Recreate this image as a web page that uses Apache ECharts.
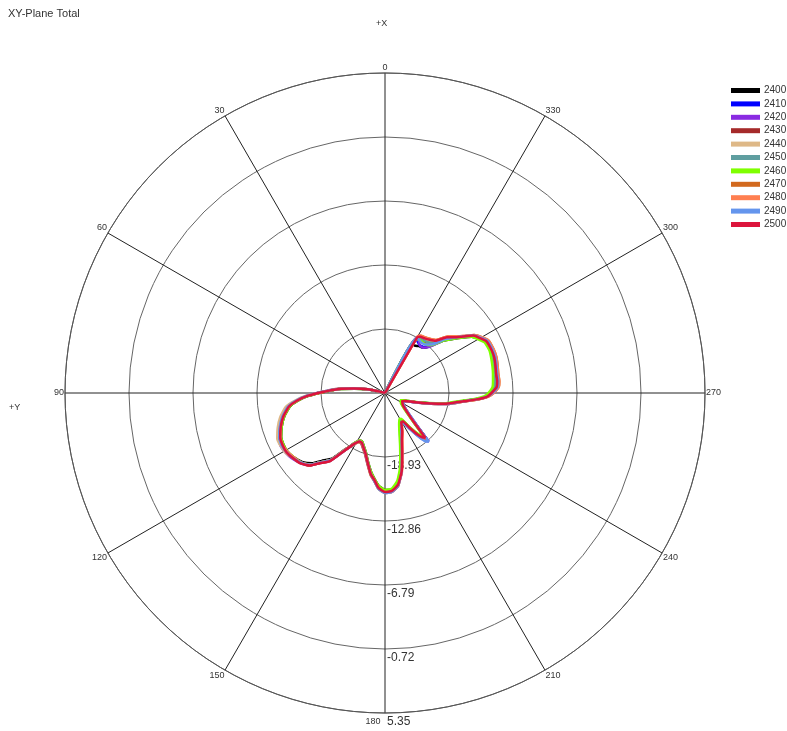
<!DOCTYPE html>
<html>
<head>
<meta charset="utf-8">
<title>XY-Plane Total</title>
<script src="https://cdn.jsdelivr.net/npm/echarts@6/dist/echarts.min.js"></script>
<style>
  html, body { margin: 0; padding: 0; background: #fff; }
  #chart { width: 787px; height: 731px; }
</style>
</head>
<body>
<div id="chart"></div>
<script>
// sample angles (deg), 0 at +X, counter-clockwise
const angleDeg = [
  0, 72, 75, 78, 82, 85, 89, 92, 95, 98,
  103, 108, 113, 117, 121, 125, 130, 134, 137, 141,
  144, 148, 152, 155, 158, 162, 166, 170, 173, 176,
  180, 184, 188, 192, 196, 200, 204, 209, 212, 215,
  218, 220, 222, 223, 225, 228, 232, 237, 241, 245,
  249, 253, 257, 260, 264, 266, 268, 270, 273, 276,
  280, 284, 288, 292, 297, 300, 303, 306, 309, 312,
  316, 320, 324, 328, 330, 332, 360
];

const freqs = ['2400', '2410', '2420', '2430', '2440', '2450', '2460', '2470', '2480', '2490', '2500'];
const colors = ['#000000', '#0000ff', '#8a2be2', '#a52a2a', '#deb887', '#5f9ea0',
  '#7fff00', '#d2691e', '#ff7f50', '#6495ed', '#dc143c'];

// gain in dB (-25 = centre / below scale)
const gain2400 = [
  -25, -25, -24.6, -23.4, -22.1, -20.7, -19.2, -17.8, -16.7, -15.9,
  -15.2, -14.7, -14.3, -14.2, -14.2, -14.4, -14.8, -15.4, -16.2, -17.0,
  -18.2, -19.3, -19.9, -19.9, -19.6, -19.1, -18.3, -17.4, -16.8, -16.2,
  -15.8, -15.8, -16.3, -17.6, -19.3, -20.5, -21.3, -22.0, -21.9, -21.0,
  -19.9, -19.3, -19.0, -19.9, -21.1, -22.0, -22.6, -23.0, -23.1, -23.2,
  -22.9, -22.1, -20.7, -19.2, -17.6, -16.4, -15.4, -15.0, -14.5, -14.4,
  -14.4, -14.3, -14.2, -14.2, -14.3, -14.7, -15.2, -16.1, -16.9, -17.6,
  -18.8, -19.4, -19.5, -19.7, -19.6, -25, -25
];
const gain2410 = [
  -25, -25, -24.6, -23.4, -22.0, -20.6, -19.1, -17.7, -16.6, -15.8,
  -15.0, -14.5, -14.2, -14.1, -14.1, -14.3, -14.7, -15.2, -16.0, -16.8,
  -18.1, -19.3, -19.9, -19.8, -19.5, -19.0, -18.2, -17.3, -16.7, -16.1,
  -15.7, -15.7, -16.2, -17.5, -19.3, -20.6, -21.4, -22.0, -21.8, -20.9,
  -19.8, -19.2, -18.9, -19.8, -21.0, -21.9, -22.5, -22.9, -23.0, -23.1,
  -22.8, -22.0, -20.6, -19.1, -17.6, -16.4, -15.4, -15.0, -14.5, -14.4,
  -14.3, -14.2, -14.1, -14.1, -14.2, -14.6, -15.1, -16.0, -16.8, -17.5,
  -18.7, -19.3, -19.4, -19.2, -19.1, -25, -25
];
const gain2420 = [
  -25, -25, -24.5, -23.3, -21.9, -20.5, -19.0, -17.6, -16.5, -15.6,
  -14.9, -14.4, -14.0, -13.9, -14.0, -14.2, -14.6, -15.1, -15.9, -16.7,
  -18.0, -19.2, -19.8, -19.7, -19.4, -18.9, -18.1, -17.2, -16.6, -16.0,
  -15.6, -15.6, -16.1, -17.4, -19.2, -20.5, -21.3, -21.9, -21.7, -20.8,
  -19.7, -19.1, -18.8, -19.7, -20.9, -21.8, -22.5, -22.9, -23.0, -23.1,
  -22.8, -21.9, -20.5, -19.0, -17.5, -16.3, -15.3, -14.9, -14.4, -14.3,
  -14.2, -14.1, -14.0, -14.0, -14.1, -14.5, -15.0, -15.9, -16.8, -17.6,
  -18.9, -19.4, -19.4, -19.0, -18.9, -25, -25
];
const gain2430 = [
  -25, -25, -24.5, -23.3, -22.0, -20.6, -19.1, -17.7, -16.6, -15.7,
  -15.0, -14.5, -14.1, -14.0, -14.1, -14.3, -14.7, -15.2, -16.0, -16.8,
  -18.1, -19.3, -19.9, -19.8, -19.5, -19.0, -18.2, -17.3, -16.7, -16.1,
  -15.7, -15.7, -16.2, -17.5, -19.3, -20.5, -21.3, -21.9, -21.8, -21.0,
  -19.9, -19.4, -19.1, -20.0, -21.1, -22.0, -22.6, -23.0, -23.1, -23.2,
  -22.9, -22.0, -20.6, -19.1, -17.6, -16.3, -15.3, -14.9, -14.4, -14.3,
  -14.3, -14.2, -14.1, -14.1, -14.2, -14.6, -15.1, -16.0, -16.7, -17.3,
  -18.4, -18.8, -19.0, -19.0, -19.1, -25, -25
];
const gain2440 = [
  -25, -25, -24.5, -23.2, -21.9, -20.5, -19.0, -17.5, -16.4, -15.5,
  -14.8, -14.3, -13.9, -13.9, -14.0, -14.3, -14.7, -15.2, -16.0, -16.8,
  -18.1, -19.3, -19.9, -19.8, -19.5, -19.0, -18.2, -17.2, -16.7, -16.0,
  -15.6, -15.7, -16.2, -17.4, -19.2, -20.5, -21.2, -21.9, -21.9, -21.1,
  -20.1, -19.6, -19.4, -20.2, -21.3, -22.1, -22.7, -23.1, -23.2, -23.3,
  -23.0, -22.1, -20.6, -19.1, -17.5, -16.3, -15.3, -14.8, -14.3, -14.2,
  -14.2, -14.1, -14.0, -14.1, -14.2, -14.6, -15.0, -15.9, -16.6, -17.2,
  -18.2, -18.5, -18.7, -18.8, -19.0, -25, -25
];
const gain2450 = [
  -25, -25, -24.5, -23.3, -22.0, -20.6, -19.1, -17.7, -16.6, -15.8,
  -15.1, -14.6, -14.2, -14.1, -14.1, -14.3, -14.7, -15.2, -16.0, -16.8,
  -18.1, -19.2, -19.8, -19.8, -19.5, -19.0, -18.2, -17.3, -16.7, -16.1,
  -15.7, -15.8, -16.4, -17.8, -19.6, -20.8, -21.5, -22.1, -22.0, -21.2,
  -20.2, -19.7, -19.5, -20.3, -21.3, -22.1, -22.7, -23.1, -23.2, -23.3,
  -23.0, -22.1, -20.7, -19.2, -17.6, -16.4, -15.4, -15.1, -14.6, -14.5,
  -14.5, -14.4, -14.3, -14.2, -14.3, -14.7, -15.1, -16.0, -16.8, -17.4,
  -18.4, -18.7, -18.8, -18.9, -19.0, -25, -25
];
const gain2460 = [
  -25, -25, -24.6, -23.4, -22.1, -20.7, -19.2, -17.8, -16.7, -15.9,
  -15.2, -14.7, -14.3, -14.2, -14.2, -14.4, -14.7, -15.2, -16.0, -16.8,
  -18.1, -19.3, -19.9, -19.9, -19.6, -19.1, -18.3, -17.4, -16.8, -16.2,
  -15.8, -15.9, -16.6, -18.0, -19.8, -21.0, -21.7, -22.2, -22.1, -21.3,
  -20.3, -19.8, -19.6, -20.4, -21.4, -22.2, -22.8, -23.2, -23.3, -23.4,
  -23.1, -22.2, -20.8, -19.3, -17.8, -16.6, -15.6, -15.2, -14.8, -14.7,
  -14.6, -14.5, -14.4, -14.3, -14.4, -14.8, -15.2, -16.1, -16.9, -17.6,
  -18.7, -19.0, -19.0, -19.0, -19.1, -25, -25
];
const gain2470 = [
  -25, -25, -24.5, -23.3, -22.0, -20.6, -19.1, -17.7, -16.6, -15.8,
  -15.1, -14.6, -14.2, -14.1, -14.1, -14.3, -14.6, -15.1, -15.9, -16.7,
  -18.0, -19.1, -19.7, -19.7, -19.4, -18.9, -18.1, -17.1, -16.6, -15.9,
  -15.5, -15.6, -16.1, -17.4, -19.1, -20.3, -21.0, -21.8, -21.8, -21.0,
  -20.0, -19.5, -19.3, -20.1, -21.2, -22.0, -22.6, -23.0, -23.1, -23.2,
  -22.9, -22.0, -20.5, -19.0, -17.4, -16.2, -15.2, -14.7, -14.2, -14.1,
  -14.1, -14.0, -13.9, -13.9, -14.0, -14.4, -14.9, -15.8, -16.5, -17.0,
  -18.0, -18.3, -18.5, -18.6, -18.8, -25, -25
];
const gain2480 = [
  -25, -25, -24.5, -23.3, -22.0, -20.6, -19.1, -17.7, -16.6, -15.8,
  -15.1, -14.6, -14.2, -14.1, -14.2, -14.4, -14.7, -15.2, -16.0, -16.8,
  -18.1, -19.2, -19.8, -19.8, -19.5, -19.0, -18.2, -17.2, -16.7, -16.0,
  -15.6, -15.6, -16.1, -17.3, -19.0, -20.2, -20.9, -21.7, -21.7, -20.9,
  -19.9, -19.4, -19.2, -20.0, -21.1, -21.9, -22.5, -22.9, -23.0, -23.1,
  -22.8, -21.9, -20.5, -19.0, -17.4, -16.2, -15.2, -14.7, -14.2, -14.1,
  -14.1, -14.0, -13.9, -13.9, -14.0, -14.4, -14.9, -15.8, -16.5, -17.0,
  -18.0, -18.3, -18.5, -18.6, -18.8, -25, -25
];
const gain2490 = [
  -25, -25, -24.5, -23.3, -22.0, -20.6, -19.0, -17.6, -16.5, -15.7,
  -15.0, -14.5, -14.1, -14.0, -14.1, -14.3, -14.7, -15.2, -16.0, -16.8,
  -18.0, -19.2, -19.8, -19.8, -19.5, -19.0, -18.2, -17.2, -16.6, -15.9,
  -15.5, -15.6, -16.1, -17.4, -19.2, -20.4, -21.2, -21.8, -21.6, -20.7,
  -19.6, -19.0, -18.8, -19.7, -20.9, -21.8, -22.5, -22.9, -23.0, -23.1,
  -22.8, -21.9, -20.5, -19.0, -17.5, -16.3, -15.3, -14.8, -14.3, -14.2,
  -14.2, -14.1, -14.0, -14.0, -14.1, -14.5, -15.0, -15.9, -16.7, -17.4,
  -18.6, -19.0, -19.1, -19.0, -19.0, -25, -25
];
const gain2500 = [
  -25, -25, -24.5, -23.3, -22.0, -20.6, -19.1, -17.7, -16.6, -15.8,
  -15.1, -14.6, -14.2, -14.1, -14.1, -14.3, -14.6, -15.1, -15.9, -16.7,
  -18.0, -19.2, -19.8, -19.8, -19.5, -19.0, -18.2, -17.2, -16.7, -16.0,
  -15.6, -15.7, -16.2, -17.4, -19.1, -20.3, -21.0, -21.8, -21.8, -21.0,
  -20.0, -19.5, -19.3, -20.1, -21.2, -22.0, -22.6, -23.0, -23.1, -23.2,
  -22.9, -22.0, -20.6, -19.1, -17.5, -16.3, -15.3, -14.9, -14.4, -14.3,
  -14.3, -14.2, -14.1, -14.1, -14.2, -14.6, -15.0, -15.9, -16.6, -17.1,
  -18.1, -18.4, -18.6, -18.7, -18.9, -25, -25
];
const gains = [gain2400, gain2410, gain2420, gain2430, gain2440, gain2450,
  gain2460, gain2470, gain2480, gain2490, gain2500];

// radial scale
const rMin = -25;
const rMax = 5.35;
const rStep = 6.07;

const chart = echarts.init(document.getElementById('chart'));
const font = 'Liberation Sans, Arial, sans-serif';

// angle axis runs 180..540 so the radius axis (at startAngle) points down
const toAxisAngle = a => (a < 180 ? a + 360 : a);

const series = freqs.map((f, k) => ({
  name: f,
  type: 'line',
  coordinateSystem: 'polar',
  showSymbol: false,
  smooth: 0.15,
  animation: false,
  lineStyle: { width: 2.5, color: colors[k] },
  itemStyle: { color: colors[k] },
  data: angleDeg.map((a, i) => [Math.max(gains[k][i], rMin), toAxisAngle(a)])
}));

chart.setOption({
  backgroundColor: '#fff',
  animation: false,
  textStyle: { fontFamily: font },
  title: [
    { text: 'XY-Plane Total', left: 3, top: 3,
      textStyle: { fontSize: 11, fontWeight: 'normal', color: '#333', fontFamily: font } },
    { text: '+X', left: 371, top: 14,
      textStyle: { fontSize: 9, fontWeight: 'normal', color: '#333', fontFamily: font } },
    { text: '+Y', left: 4, top: 398,
      textStyle: { fontSize: 9, fontWeight: 'normal', color: '#333', fontFamily: font } }
  ],
  legend: {
    orient: 'vertical',
    left: 726,
    top: 80,
    icon: 'rect',
    itemWidth: 29,
    itemHeight: 5,
    itemGap: 2.4,
    data: freqs,
    textStyle: { fontSize: 10, color: '#333', fontFamily: font, lineHeight: 11, padding: [0, 0, 0, -1] }
  },
  polar: { center: [385, 393], radius: 320 },
  angleAxis: {
    type: 'value',
    min: 180,
    max: 540,
    interval: 30,
    startAngle: 270,
    clockwise: false,
    axisLine: { show: true, lineStyle: { color: '#555', width: 1 } },
    axisTick: { show: false },
    splitLine: { show: true, lineStyle: { color: '#222', width: 1 } },
    axisLabel: {
      margin: 1,
      fontSize: 9,
      color: '#333',
      fontFamily: font,
      formatter: v => {
        const d = v % 360;
        return d === 180 ? '{b|180}' : String(d);
      },
      rich: { b: { fontSize: 9, color: '#333', padding: [3, 24, 0, 0] } }
    }
  },
  radiusAxis: {
    type: 'value',
    min: rMin,
    max: rMax,
    interval: rStep,
    axisLine: { show: false },
    axisTick: { show: false },
    splitLine: { show: true, lineStyle: { color: '#666', width: 1 } },
    axisLabel: {
      showMinLabel: false,
      margin: 2,
      fontSize: 12,
      color: '#333',
      fontFamily: font,
      verticalAlign: 'top',
      padding: [3, 0, 0, 0],
      formatter: v => v.toFixed(2)
    }
  },
  series: series
});
</script>
</body>
</html>
